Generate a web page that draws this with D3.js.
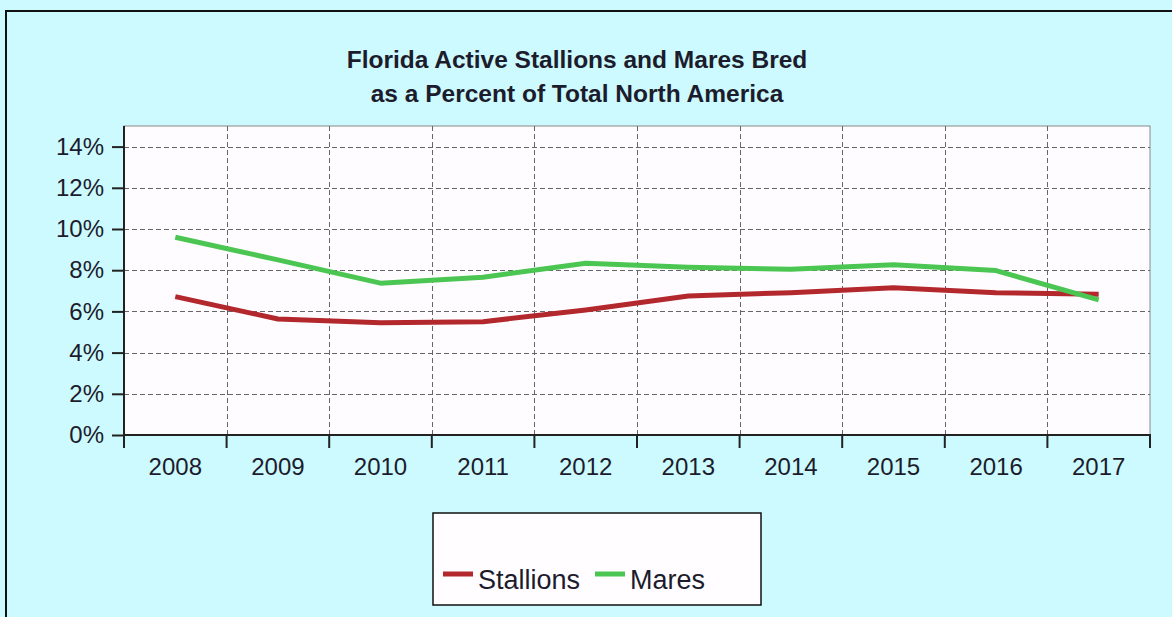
<!DOCTYPE html>
<html>
<head>
<meta charset="utf-8">
<script src="https://cdn.jsdelivr.net/npm/d3@7"></script>
<style>
  body { margin: 0; background: #ccfaff; }
  svg { display: block; font-family: "Liberation Sans", Arial, sans-serif; }
</style>
</head>
<body>
<div id="chart"></div>
<script>
// data
let years = ["2008","2009","2010","2011","2012","2013","2014","2015","2016","2017"];
let stallions = [6.72, 5.63, 5.45, 5.5, 6.07, 6.75, 6.91, 7.15, 6.91, 6.83];
let mares = [9.6, 8.5, 7.37, 7.66, 8.34, 8.14, 8.05, 8.26, 7.98, 6.56];
let yTicks = [0, 2, 4, 6, 8, 10, 12, 14];
let titleLines = ["Florida Active Stallions and Mares Bred", "as a Percent of Total North America"];
let seriesNames = ["Stallions", "Mares"];
let seriesColors = ["#b3282d", "#4cc652"];

const width = 1172, height = 617;
const plot = {left: 124, top: 126, right: 1150, bottom: 435};
const txt = "#1c1c2c";

let svg = d3.select("#chart").append("svg")
    .attr("width", width).attr("height", height);

// background + outer frame
svg.append("rect").attr("width", width).attr("height", height).attr("fill", "#ccfaff");
svg.append("rect").attr("x", 6).attr("y", 11).attr("width", width + 10).attr("height", height + 10)
    .attr("fill", "none").attr("stroke", "#111").attr("stroke-width", 2);

// title
svg.append("text")
    .attr("x", 577).attr("y", 68)
    .attr("text-anchor", "middle")
    .attr("font-size", 24.5).attr("font-weight", "bold").attr("fill", txt)
    .selectAll("tspan").data(titleLines).join("tspan")
    .attr("x", 577).attr("dy", (d, i) => i ? 34 : 0)
    .text(d => d);

let x = d3.scaleBand().domain(years).range([plot.left, plot.right]);
let y = d3.scaleLinear().domain([0, 15]).range([plot.bottom, plot.top]);

// plot area
svg.append("rect")
    .attr("x", plot.left).attr("y", plot.top)
    .attr("width", plot.right - plot.left).attr("height", plot.bottom - plot.top)
    .attr("fill", "#fffcff").attr("stroke", "#888").attr("stroke-width", 1);

// grid
let grid = svg.append("g").attr("stroke", "#666").attr("stroke-width", 1).attr("stroke-dasharray", "5,3");
grid.selectAll(".hg").data(yTicks.filter(d => d > 0)).join("line")
    .attr("x1", plot.left).attr("x2", plot.right)
    .attr("y1", d => Math.round(y(d)) + 0.5).attr("y2", d => Math.round(y(d)) + 0.5);
grid.selectAll(".vg").data(years.slice(1)).join("line")
    .attr("y1", plot.top).attr("y2", plot.bottom)
    .attr("x1", d => Math.round(x(d)) + 0.5).attr("x2", d => Math.round(x(d)) + 0.5);

// y axis
let yAxis = svg.append("g")
    .attr("transform", `translate(${plot.left},0)`)
    .call(d3.axisLeft(y).tickValues(yTicks).tickFormat(d => d + "%").tickSize(12).tickPadding(8));
yAxis.select(".domain").attr("stroke", "#222").attr("stroke-width", 2)
    .attr("d", `M0,${plot.top}V${plot.bottom}`);
yAxis.selectAll(".tick line").attr("stroke", "#222").attr("stroke-width", 2);
yAxis.selectAll(".tick text").attr("font-size", 24).attr("fill", txt)
    .attr("font-family", "Liberation Sans, Arial, sans-serif");

// x axis: ticks at category boundaries, labels at centers
let xAxis = svg.append("g").attr("transform", `translate(0,${plot.bottom})`);
xAxis.append("line").attr("x1", plot.left).attr("x2", plot.right + 1)
    .attr("stroke", "#222").attr("stroke-width", 2);
xAxis.selectAll(".xt").data(years.concat(["end"])).join("line")
    .attr("x1", d => d === "end" ? plot.right : x(d))
    .attr("x2", d => d === "end" ? plot.right : x(d))
    .attr("y1", 0).attr("y2", 13)
    .attr("stroke", "#222").attr("stroke-width", 2);
xAxis.selectAll("text").data(years).join("text")
    .attr("x", d => x(d) + x.bandwidth() / 2)
    .attr("y", 40)
    .attr("text-anchor", "middle")
    .attr("font-size", 24).attr("fill", txt)
    .text(d => d);

// lines
let line = d3.line()
    .x((d, i) => x(years[i]) + x.bandwidth() / 2)
    .y(d => y(d));
[stallions, mares].forEach((s, k) => {
    svg.append("path").datum(s)
        .attr("d", line)
        .attr("fill", "none")
        .attr("stroke", seriesColors[k])
        .attr("stroke-width", 5)
        .attr("stroke-linejoin", "round");
});

// legend
let lg = svg.append("g");
lg.append("rect").attr("x", 433).attr("y", 513).attr("width", 328).attr("height", 92)
    .attr("fill", "#fffdff").attr("stroke", "#111").attr("stroke-width", 1.5);
let lgX = [443, 595];
seriesNames.forEach((n, k) => {
    lg.append("line").attr("x1", lgX[k]).attr("x2", lgX[k] + 30)
        .attr("y1", 574).attr("y2", 574)
        .attr("stroke", seriesColors[k]).attr("stroke-width", 5);
    lg.append("text").attr("x", lgX[k] + 35).attr("y", 589)
        .attr("font-size", 27).attr("fill", txt).text(n);
});
</script>
</body>
</html>
